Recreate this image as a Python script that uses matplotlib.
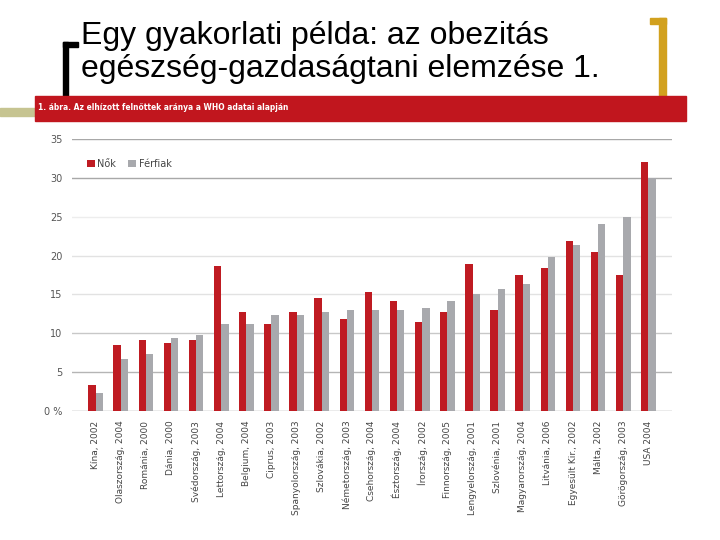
import numpy as np
import matplotlib.pyplot as plt
from matplotlib.patches import Rectangle

countries = ['Kína, 2002', 'Olaszország, 2004', 'Románia, 2000', 'Dánia, 2000',
             'Svédország, 2003', 'Lettország, 2004', 'Belgium, 2004', 'Ciprus, 2003',
             'Spanyolország, 2003', 'Szlovákia, 2002', 'Németország, 2003',
             'Csehország, 2004', 'Észtország, 2004', 'Írország, 2002',
             'Finnország, 2005', 'Lengyelország, 2001', 'Szlovénia, 2001',
             'Magyarország, 2004', 'Litvánia, 2006', 'Egyesült Kir., 2002',
             'Málta, 2002', 'Görögország, 2003', 'USA 2004']
nok = [3.3, 8.5, 9.1, 8.8, 9.1, 18.6, 12.7, 11.2, 12.7, 14.5, 11.8,
       15.3, 14.2, 11.5, 12.7, 18.9, 13.0, 17.5, 18.4, 21.9, 20.4, 17.5, 32.0]
ferfiak = [2.3, 6.7, 7.3, 9.4, 9.8, 11.2, 11.2, 12.3, 12.3, 12.7, 13.0,
           13.0, 13.0, 13.3, 14.2, 15.0, 15.7, 16.3, 19.8, 21.3, 24.0, 25.0, 30.0]
yticks = [0, 5, 10, 15, 20, 25, 30, 35]
ytick_labels = ['0 %', '5', '10', '15', '20', '25', '30', '35']

red = '#BF1B22'
grey = '#A8A9AD'

fig = plt.figure(figsize=(7.2, 5.4), dpi=100)
W, H = 720, 540

def fx(px):
    return px / W

def fy(py):
    return 1 - py / H

# slide decorations
fig.patches.append(Rectangle((0, fy(116)), fx(40), 8 / H, transform=fig.transFigure,
                             color='#C6C491', zorder=1))
fig.patches.append(Rectangle((fx(63), fy(100)), 5 / W, 58 / H, transform=fig.transFigure,
                             color='black', zorder=1))
fig.patches.append(Rectangle((fx(63), fy(47)), 15 / W, 5 / H, transform=fig.transFigure,
                             color='black', zorder=1))
fig.patches.append(Rectangle((fx(659), fy(98)), 7 / W, 80 / H, transform=fig.transFigure,
                             color='#D2A11E', zorder=1))
fig.patches.append(Rectangle((fx(650), fy(24)), 16 / W, 6 / H, transform=fig.transFigure,
                             color='#D2A11E', zorder=1))
fig.patches.append(Rectangle((fx(35), fy(121)), 651 / W, 25 / H, transform=fig.transFigure,
                             color='#C1161E', zorder=2))

fig.text(fx(81), fy(44), 'Egy gyakorlati példa: az obezitás', fontsize=23,
         family='Liberation Sans', va='baseline', ha='left')
fig.text(fx(81), fy(77), 'egészség-gazdaságtani elemzése 1.', fontsize=23,
         family='Liberation Sans', va='baseline', ha='left')
fig.text(fx(38), fy(108), '1. ábra. Az elhízott felnőttek aránya a WHO adatai alapján',
         fontsize=6, color='white', fontweight='bold', va='center', ha='left',
         fontstretch='condensed', zorder=3)

ax = fig.add_axes([fx(72), fy(411), 600 / W, 272 / H])
x = np.arange(len(countries))
w = 0.29
ax.bar(x - w / 2, nok, w, color=red, label='Nők', zorder=3)
ax.bar(x + w / 2, ferfiak, w, color=grey, label='Férfiak', zorder=3)

grid_cols = ['#9E9E9E', '#B5B5B5', '#C8C8C8', '#E2E2E2', '#E2E2E2', '#EDEDED', '#A8A8A8', '#A8A8A8']
for v, c in zip(yticks, grid_cols):
    ax.axhline(v, color=c, lw=1, zorder=1)

ax.set_xlim(-0.94, 22.94)
ax.set_ylim(0, 35)
ax.set_yticks(yticks)
ax.set_yticklabels(ytick_labels, fontsize=7, color='#555555')
ax.set_xticks(x)
ax.set_xticklabels(countries, rotation=90, fontsize=6.5, color='#444444')
ax.tick_params(length=0, pad=7)
for s in ax.spines.values():
    s.set_visible(False)

ax.legend(loc='upper left', bbox_to_anchor=(0.01, 0.96), frameon=False, fontsize=7,
          handlelength=0.8, handleheight=0.8, handletextpad=0.3, columnspacing=1.2,
          ncol=2, labelcolor='#444444')

fig.savefig('out.png', dpi=100)
